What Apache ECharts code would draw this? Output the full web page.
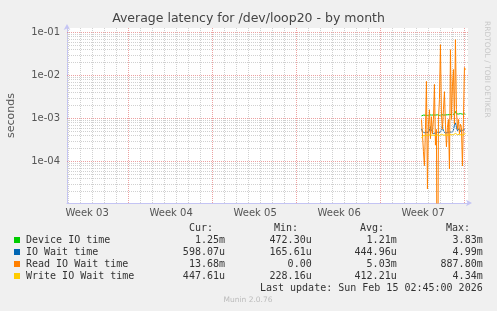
<!DOCTYPE html>
<html><head><meta charset="utf-8">
<script src="https://cdn.jsdelivr.net/npm/echarts@6/dist/echarts.min.js"></script>
<style>html,body{margin:0;padding:0;background:#f0f0f0}#c{width:497px;height:311px}</style>
</head><body><div id="c"></div>
<script>
// ---- chart data ----
const chartTitle = 'Average latency for /dev/loop20 - by month';
const yAxisName = 'seconds';
const weekLabels = ['Week 03', 'Week 04', 'Week 05', 'Week 06', 'Week 07'];
const weekLabelDays = [17.55, 24.55, 31.55, 38.55, 45.55];
const weekStartDays = [21, 28, 35, 42, 49];
const firstGridDay = 16, lastGridDay = 49;
const yTickValues = [1e-4, 1e-3, 1e-2, 1e-1];
const yTickLabels = ['1e-04', '1e-03', '1e-02', '1e-01'];
const decades = [1e-5, 1e-4, 1e-3, 1e-2, 1e-1];
const minorMultipliers = [2, 3, 4, 5, 6, 7, 8, 9];
const xMin = 15.875, xMax = 49.29;
const yMin = 1.0839e-5, yMax = 0.12725;
const sampleStart = 45.41, sampleStep = 1 / 12; // 2-hour samples (days)

const seriesNames = ['Device IO time', 'IO Wait time', 'Read IO Wait time', 'Write IO Wait time'];
const seriesColors = ['#00cc00', '#0066b3', '#ff8000', '#ffcc00'];
const curValues = ['1.25m', '598.07u', '13.68m', '447.61u'];
const minValues = ['472.30u', '165.61u', '0.00', '228.16u'];
const avgValues = ['1.21m', '444.96u', '5.03m', '412.21u'];
const maxValues = ['3.83m', '4.99m', '887.80m', '4.34m'];
const lastUpdate = 'Last update: Sun Feb 15 02:45:00 2026';
const footer = 'Munin 2.0.76';
const sideText = 'RRDTOOL / TOBI OETIKER';

const deviceIO = [1.15e-3,1.18e-3,1.20e-3,1.17e-3,1.19e-3,1.21e-3,1.18e-3,1.20e-3,1.22e-3,1.19e-3,
  1.20e-3,1.18e-3,1.21e-3,1.23e-3,1.20e-3,1.19e-3,1.22e-3,1.20e-3,1.18e-3,1.21e-3,
  1.24e-3,1.22e-3,1.20e-3,1.23e-3,1.21e-3,1.19e-3,1.22e-3,1.25e-3,1.23e-3,1.21e-3,
  1.24e-3,1.26e-3,1.23e-3,1.30e-3,1.45e-3,1.28e-3,1.25e-3,1.27e-3,1.24e-3,1.30e-3,
  1.28e-3,1.26e-3,1.35e-3,1.28e-3,1.25e-3];
const ioWait = [5.8e-4,5.0e-4,4.6e-4,4.7e-4,4.5e-4,4.8e-4,4.6e-4,4.7e-4,5.2e-4,6.5e-4,
  4.9e-4,4.6e-4,4.5e-4,4.7e-4,4.6e-4,4.5e-4,4.8e-4,4.6e-4,4.7e-4,5.0e-4,
  5.6e-4,6.8e-4,5.0e-4,4.7e-4,4.6e-4,4.8e-4,4.7e-4,4.6e-4,4.9e-4,4.7e-4,
  4.8e-4,5.0e-4,5.4e-4,7.0e-4,8.0e-4,6.2e-4,5.2e-4,4.9e-4,6.0e-4,5.0e-4,
  4.8e-4,5.3e-4,5.0e-4,5.6e-4,5.98e-4];
const readIOWait = [9.5e-4,4.4e-4,1.7e-4,8.0e-5,5.6e-4,7.3e-3,2.3e-5,7.4e-4,1.6e-3,3.4e-4,
  1.1e-3,4.4e-4,9.5e-4,6.2e-3,2.4e-4,5.6e-4,0,9.5e-4,2.8e-3,5.2e-2,
  1.25e-3,5.6e-4,1.6e-3,4.2e-3,7.4e-4,2.2e-4,6.2e-4,9.5e-4,6.7e-5,4.0e-2,
  9.5e-4,5.6e-3,1.38e-2,7.4e-4,6.8e-2,1.6e-3,5.6e-4,9.5e-4,4.4e-4,7.4e-4,
  6.2e-4,7.9e-5,9.5e-4,1.53e-2,1.37e-2];
const writeIOWait = [3.5e-4,3.7e-4,4.0e-4,4.1e-4,4.0e-4,4.2e-4,4.1e-4,4.0e-4,4.2e-4,4.3e-4,
  4.1e-4,4.0e-4,4.1e-4,4.2e-4,4.0e-4,4.1e-4,4.2e-4,4.1e-4,4.0e-4,4.2e-4,
  4.3e-4,4.2e-4,4.1e-4,4.0e-4,4.1e-4,4.2e-4,4.1e-4,4.3e-4,4.2e-4,4.1e-4,
  4.2e-4,4.3e-4,4.2e-4,4.4e-4,4.5e-4,4.3e-4,4.2e-4,4.1e-4,4.3e-4,4.2e-4,
  4.1e-4,4.3e-4,4.2e-4,4.4e-4,4.48e-4];
const seriesValues = [deviceIO, ioWait, readIOWait, writeIOWait];

// ---- build ----
const LOG_FLOOR = 1e-9; // zero plotted below the log axis floor
function toPoints(arr) {
  return arr.map((v, i) => [sampleStart + i * sampleStep, v > 0 ? v : LOG_FLOOR]);
}
const minorStyle = { color: '#d0d0d0', width: 1, type: [1, 1] };
const majorStyle = { color: 'rgba(230,130,130,0.75)', width: 1, type: [1, 1] };
const gridLines = [];
for (let d = firstGridDay; d <= lastGridDay; d++) {
  if (weekStartDays.indexOf(d) < 0) gridLines.push({ xAxis: d, lineStyle: minorStyle });
}
decades.forEach(dec => minorMultipliers.forEach(m => {
  const v = dec * m;
  if (v > yMin && v < yMax) gridLines.push({ yAxis: v, lineStyle: minorStyle });
}));
weekStartDays.forEach(d => gridLines.push({ xAxis: d, lineStyle: majorStyle }));
yTickValues.forEach(v => gridLines.push({ yAxis: v, lineStyle: majorStyle }));

const series = [{
  type: 'line', data: [], z: 1, silent: true,
  markLine: { silent: true, precision: 12, symbol: ['none', 'none'], label: { show: false }, animation: false, data: gridLines }
}];
seriesValues.forEach((arr, k) => series.push({
  name: seriesNames[k], type: 'line', data: toPoints(arr), z: 3 + k,
  showSymbol: false, symbol: 'none', lineStyle: { color: seriesColors[k], width: 1 }, itemStyle: { color: seriesColors[k] }
}));

const mono = '10px "DejaVu Sans Mono"';
const txt = '#333';
const graphic = [];
const rowY0 = 240, rowH = 12;
const colHeaderRight = [213, 298, 384, 470];
const colValueRight = [225, 311.7, 396.7, 482.7];
['Cur:', 'Min:', 'Avg:', 'Max:'].forEach((h, i) => graphic.push({
  type: 'text', x: colHeaderRight[i], y: rowY0 - rowH,
  style: { text: h, font: mono, fill: txt, textAlign: 'right', align: 'right', textVerticalAlign: 'middle', verticalAlign: 'middle' }
}));
seriesNames.forEach((n, k) => {
  const y = rowY0 + k * rowH;
  graphic.push({ type: 'rect', shape: { x: 14, y: y - 3, width: 6, height: 6 }, style: { fill: seriesColors[k] } });
  graphic.push({ type: 'text', x: 26, y: y, style: { text: n, font: mono, fill: txt, textVerticalAlign: 'middle', verticalAlign: 'middle' } });
  [curValues, minValues, avgValues, maxValues].forEach((col, i) => graphic.push({
    type: 'text', x: colValueRight[i], y: y,
    style: { text: col[k], font: mono, fill: txt, textAlign: 'right', align: 'right', textVerticalAlign: 'middle', verticalAlign: 'middle' }
  }));
});
graphic.push({ type: 'text', x: 482.7, y: rowY0 + 4 * rowH,
  style: { text: lastUpdate, font: mono, fill: txt, textAlign: 'right', align: 'right', textVerticalAlign: 'middle', verticalAlign: 'middle' } });
graphic.push({ type: 'text', x: 248, y: 300,
  style: { text: footer, font: '7.5px "DejaVu Sans"', fill: '#bbb', textAlign: 'center', align: 'center', textVerticalAlign: 'middle', verticalAlign: 'middle' } });
graphic.push({ type: 'text', x: 487, y: 21, rotation: -Math.PI / 2,
  style: { text: sideText, font: '7.5px "DejaVu Sans"', fill: '#c8c8c8', textAlign: 'left', align: 'left', textVerticalAlign: 'middle', verticalAlign: 'middle' } });

const axisColor = '#c4c4f4';
const chart = echarts.init(document.getElementById('c'), null, { renderer: 'canvas' });
chart.setOption({
  animation: false,
  backgroundColor: '#f0f0f0',
  title: { text: chartTitle, left: 'center', top: 12, padding: 0,
    textStyle: { fontFamily: 'DejaVu Sans', fontSize: 12.5, fontWeight: 'normal', color: '#444' } },
  grid: { left: 67, right: 29, top: 28, bottom: 108, show: true, backgroundColor: '#ffffff', borderWidth: 0,
    containLabel: false, outerBoundsMode: 'none' },
  xAxis: {
    type: 'value', min: xMin, max: xMax,
    axisLine: { show: true, lineStyle: { color: axisColor, width: 1 }, symbol: ['none', 'arrow'], symbolSize: [5, 6], symbolOffset: [0, 4] },
    axisTick: { show: false },
    splitLine: { show: false },
    axisLabel: {
      customValues: weekLabelDays, margin: 5, color: '#555', fontFamily: 'DejaVu Sans', fontSize: 10,
      formatter: v => { const i = weekLabelDays.findIndex(d => Math.abs(d - v) < 0.01); return i >= 0 ? weekLabels[i] : ''; }
    }
  },
  yAxis: {
    type: 'log', logBase: 10, min: yMin, max: yMax,
    name: yAxisName, nameLocation: 'middle', nameGap: 50, nameRotate: 90,
    nameTextStyle: { color: '#555', fontFamily: 'DejaVu Sans', fontSize: 11 },
    axisLine: { show: true, lineStyle: { color: axisColor, width: 1 }, symbol: ['none', 'arrow'], symbolSize: [5, 6], symbolOffset: [0, 4] },
    axisTick: { show: false },
    splitLine: { show: false },
    minorSplitLine: { show: false },
    axisLabel: {
      customValues: yTickValues, margin: 7, color: '#555', fontFamily: 'DejaVu Sans', fontSize: 10,
      formatter: v => { const i = yTickValues.findIndex(t => Math.abs(Math.log10(t) - Math.log10(v)) < 0.01); return i >= 0 ? yTickLabels[i] : ''; }
    }
  },
  graphic: graphic,
  series: series
});
</script></body></html>
